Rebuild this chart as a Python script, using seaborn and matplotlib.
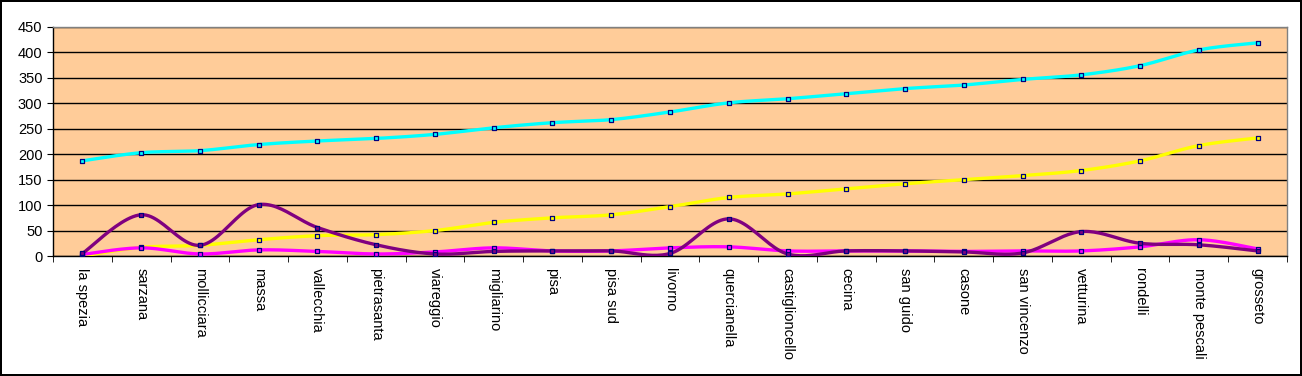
import numpy as np
import pandas as pd
import matplotlib
matplotlib.use("Agg")
import matplotlib.pyplot as plt
import seaborn as sns

categories = ["la spezia", "sarzana", "mollicciara", "massa", "vallecchia", "pietrasanta",
              "viareggio", "migliarino", "pisa", "pisa sud", "livorno", "quercianella",
              "castiglioncello", "cecina", "san guido", "casone", "san vincenzo", "vetturina",
              "rondelli", "monte pescali", "grosseto"]
cyan_vals = [187, 203, 207, 219, 226, 231, 239, 252, 262, 268, 283, 301, 309, 319, 329, 336, 347, 356, 374, 405, 419]
yellow_vals = [0, 17, 21, 32, 40, 42, 50, 66, 75, 81, 97, 115, 122, 132, 142, 150, 158, 168, 187, 217, 232]
magenta_vals = [3, 16, 4, 12, 9, 4, 8, 16, 10, 10, 16, 18, 10, 10, 10, 9, 10, 10, 18, 32, 14]
purple_vals = [5, 81, 21, 101, 56, 22, 4, 9, 10, 10, 5, 73, 4, 10, 10, 8, 6, 48, 25, 22, 10]
y_ticks = [0, 50, 100, 150, 200, 250, 300, 350, 400, 450]

series = [("yellow", yellow_vals, "#FFFF00"),
          ("cyan", cyan_vals, "#00FFFF"),
          ("magenta", magenta_vals, "#FF00FF"),
          ("purple", purple_vals, "#800080")]


def smooth(xs, ys, n=24):
    """Excel-like smoothed line (Catmull-Rom as cubic Bezier)."""
    P = np.column_stack([xs, ys]).astype(float)
    m = len(P)
    out = []
    t = np.linspace(0, 1, n)[:, None]
    for i in range(m - 1):
        p0 = P[max(i - 1, 0)]
        p1 = P[i]
        p2 = P[i + 1]
        p3 = P[min(i + 2, m - 1)]
        c1 = p1 + (p2 - p0) / 6.0
        c2 = p2 - (p3 - p1) / 6.0
        seg = ((1 - t) ** 3) * p1 + 3 * ((1 - t) ** 2) * t * c1 + 3 * (1 - t) * t ** 2 * c2 + t ** 3 * p2
        out.append(seg if i == 0 else seg[1:])
    out = np.vstack(out)
    return out[:, 0], out[:, 1]


plt.rcParams["font.family"] = ["Liberation Sans", "DejaVu Sans"]
fig = plt.figure(figsize=(13.02, 3.76), dpi=100)
fig.patch.set_facecolor("white")
fig.patch.set_edgecolor("black")
fig.patch.set_linewidth(1.5)
ax = fig.add_axes([53 / 1302, 1 - 256 / 376, (1287 - 53) / 1302, (256 - 27) / 376])
ax.set_facecolor("#FFCC99")

x = np.arange(len(categories))
for name, vals, col in series:
    sx, sy = smooth(x, vals)
    sns.lineplot(x=sx, y=sy, color=col, linewidth=2.4, sort=False, estimator=None, ax=ax, zorder=3)
for name, vals, col in series:
    sns.scatterplot(x=x, y=vals, marker="s", s=12, color=col, edgecolor="#000080",
                    linewidth=0.9, ax=ax, zorder=4)

ax.set_xlim(-0.5, len(categories) - 0.5)
ax.set_ylim(0, 450)
ax.set_yticks(y_ticks)
ax.set_yticklabels([str(v) for v in y_ticks], fontsize=10.5)
ax.yaxis.grid(True, color="black", linewidth=1)
ax.set_axisbelow(True)
ax.set_xticks(x)
ax.set_xticklabels(categories, rotation=-90, fontsize=10.5, va="top", ha="center")
ax.tick_params(axis="x", length=0, pad=9)
ax.set_xticks(np.arange(-0.5, len(categories), 1), minor=True)
ax.tick_params(axis="x", which="minor", length=4.5, color="black", direction="out")
ax.tick_params(axis="y", length=4.5, color="black", direction="out", pad=3)
ax.set_xlabel("")
ax.set_ylabel("")
for s in ["left", "bottom"]:
    ax.spines[s].set_color("black")
    ax.spines[s].set_linewidth(1)
for s in ["top", "right"]:
    ax.spines[s].set_color("#808080")
    ax.spines[s].set_linewidth(1)
if ax.get_legend():
    ax.get_legend().remove()

fig.savefig("out.png", dpi=100, facecolor=fig.get_facecolor(), edgecolor=fig.get_edgecolor())
